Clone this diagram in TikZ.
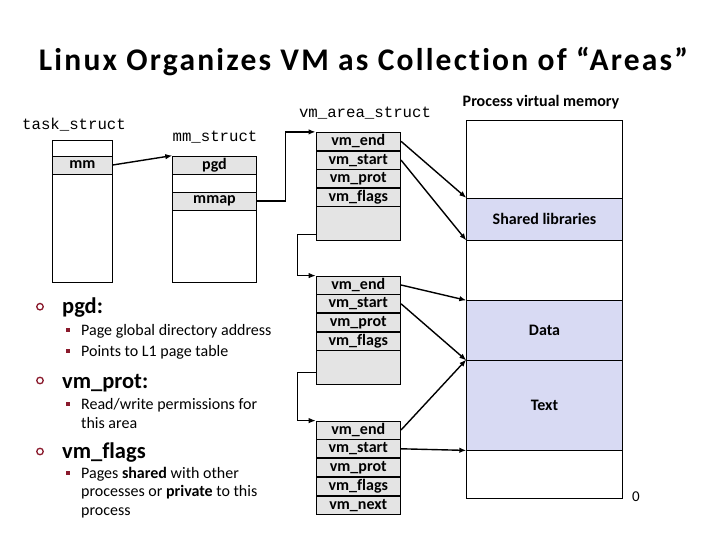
\documentclass[tikz,border=0pt]{standalone}
\usepackage{fontspec}
\setmainfont{Carlito}[Ligatures=NoCommon]
\newfontfamily\monofont{Liberation Mono}
\usetikzlibrary{arrows.meta,positioning}
\definecolor{slotgray}{HTML}{E4E4E4}
\definecolor{bandblue}{HTML}{D8DAF3}
\definecolor{bulletred}{HTML}{8A1A2C}

\begin{document}
\begin{tikzpicture}[
  x=1pt, y=-1pt,
  box/.style={rectangle, draw, line width=0.8pt, inner sep=0pt},
  slot/.style={box, fill=slotgray, minimum height=18pt, font=\fontsize{16}{16}\selectfont\bfseries},
  vmslot/.style={slot, minimum width=84.7pt},
  band/.style={box, fill=bandblue, minimum width=155.6pt, font=\fontsize{16}{16}\selectfont\bfseries},
  tname/.style={font=\fontsize{15.7}{16}\monofont},
  ptr/.style={-{Latex[length=7pt,width=5.5pt]}, line width=1.4pt},
  nextptr/.style={-{Latex[length=7pt,width=5.5pt]}, line width=0.9pt},
  head/.style={anchor=base west, inner sep=0pt, font=\fontsize{22.5}{23}\selectfont\bfseries},
  sub/.style={anchor=base west, inner sep=0pt, font=\fontsize{16}{16}\selectfont},
  ring/.style={circle, draw=bulletred, line width=1.3pt, minimum size=6.5pt, inner sep=0pt},
  dot/.style={rectangle, fill=bulletred, minimum size=4.5pt, inner sep=0pt}
]
\useasboundingbox (0,0) rectangle (720,540);

\node[font=\fontsize{31.5}{32}\selectfont\bfseries\addfontfeature{LetterSpace=7}] (title) at (363.5,62) {Linux Organizes VM as Collection of “Areas”};

% task_struct and mm_struct
\node[tname] (tasklbl) at (74,125) {task\_struct};
\node[box, minimum width=59.6pt, minimum height=142pt] (task) at (82.5,211) {};
\node[slot, minimum width=59.6pt] (mm) at (82.5,165) {mm};

\node[tname] (mmlbl) at (215,137) {mm\_struct};
\node[box, minimum width=83.6pt, minimum height=126pt] (mmstruct) at (214.5,219) {};
\node[slot, minimum width=83.6pt] (pgd) at (214.5,165) {pgd};
\node[slot, minimum width=83.6pt] (mmap) at (214.5,201) {mmap};

% vm_area_struct list
\node[tname] (arealbl) at (365,113) {vm\_area\_struct};
\node[box, fill=slotgray, minimum width=84.7pt, minimum height=107.7pt] (a1box) at (358.3,186.15) {};
\node[vmslot, anchor=north] (a1end) at (a1box.north) {vm\_end};
\node[vmslot, below=0pt of a1end] (a1start) {vm\_start};
\node[vmslot, below=0pt of a1start] (a1prot) {vm\_prot};
\node[vmslot, below=0pt of a1prot] (a1flags) {vm\_flags};

\node[box, fill=slotgray, minimum width=84.7pt, minimum height=108pt] (a2box) at (358.3,330) {};
\node[vmslot, anchor=north] (a2end) at (a2box.north) {vm\_end};
\node[vmslot, below=0pt of a2end] (a2start) {vm\_start};
\node[vmslot, below=0pt of a2start] (a2prot) {vm\_prot};
\node[vmslot, below=0pt of a2prot] (a2flags) {vm\_flags};

\node[vmslot] (a3end) at (358.3,430) {vm\_end};
\node[vmslot, below=0pt of a3end] (a3start) {vm\_start};
\node[vmslot, below=0pt of a3start] (a3prot) {vm\_prot};
\node[vmslot, below=0pt of a3prot] (a3flags) {vm\_flags};
\node[vmslot, below=0pt of a3flags] (a3next) {vm\_next};

% process virtual memory
\node[font=\fontsize{16}{16}\selectfont\bfseries] (vmlbl) at (541,102) {Process virtual memory};
\node[box, minimum width=155.6pt, minimum height=377.6pt] (vmem) at (544.5,309.5) {};
\node[band, minimum height=41.7pt] (shlib) at (544.5,219.15) {Shared libraries};
\node[band, minimum height=59.3pt] (data) at (544.5,330.35) {Data};
\node[band, minimum height=90pt] (text) at (544.5,405) {Text};
\node[font=\fontsize{15}{15}\selectfont] (zero) at (636,497) {0};

% pointers
\draw[ptr] (mm.east) -- (mmstruct.north west);
\draw[ptr] (mmap.east) -- ++(29pt,0) |- (a1end.north west);
\draw[nextptr] ([yshift=6pt]a1box.south west) -- ++(-18pt,0) |- (a2end.north west);
\draw[nextptr] ([yshift=12pt]a2box.south west) -- ++(-18pt,0) |- (a3end.north west);
\draw[ptr] (a1end.east) -- (shlib.north west);
\draw[ptr] (a1start.east) -- (shlib.south west);
\draw[ptr] (a2end.east) -- (data.north west);
\draw[ptr] (a2start.east) -- (data.south west);
\draw[ptr] (a3end.east) -- (text.north west);
\draw[ptr] (a3start.east) -- (text.south west);

% notes
\node[ring] (r1) at (40,306.7) {};
\node[head] (h1) at (62,313) {pgd:};
\node[dot] (d1) at (68,330) {};
\node[sub] (s1) at (81,335) {Page global directory address};
\node[dot] (d2) at (68,351) {};
\node[sub] (s2) at (81,356) {Points to L1 page table};
\node[ring] (r2) at (40,380.5) {};
\node[head] (h2) at (62,388) {vm\_prot:};
\node[dot] (d3) at (68,404) {};
\node[sub] (s3) at (81,409) {Read/write permissions for};
\node[sub] (s4) at (81,428) {this area};
\node[ring] (r3) at (40,451.5) {};
\node[head] (h3) at (62,458) {vm\_flags};
\node[dot] (d4) at (68,473) {};
\node[sub] (s5) at (81,478) {Pages \textbf{shared} with other};
\node[sub] (s6) at (81,496.5) {processes or \textbf{private} to this};
\node[sub] (s7) at (81,515) {process};
\end{tikzpicture}
\end{document}
